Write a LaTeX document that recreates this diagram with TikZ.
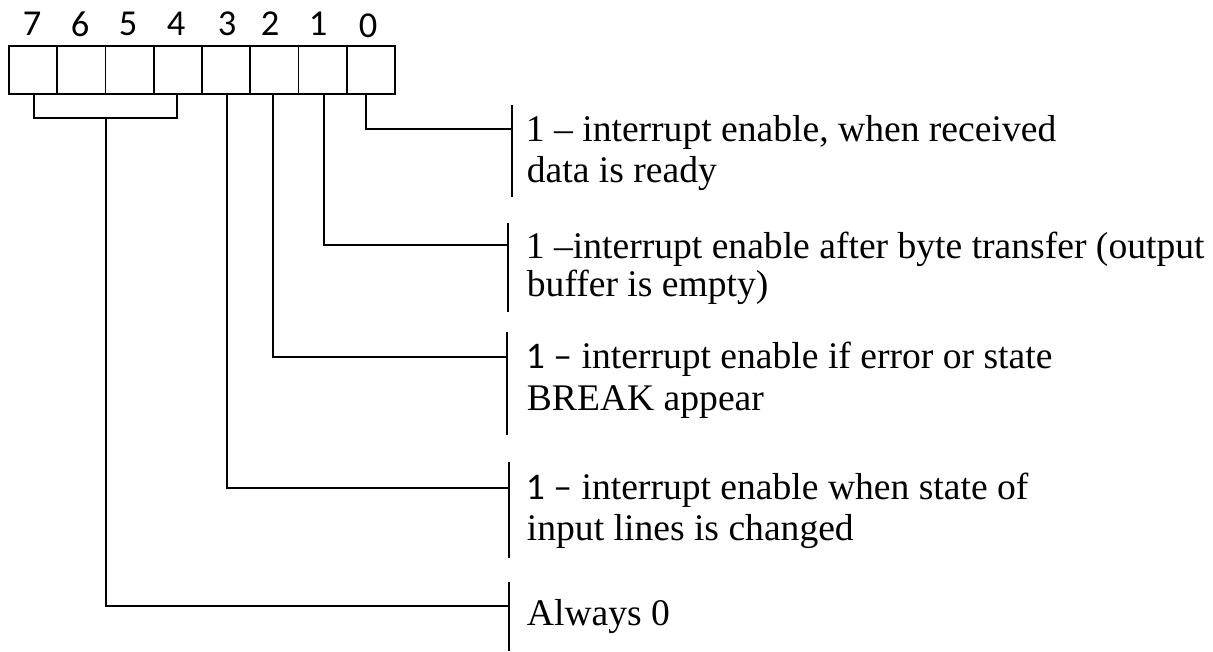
\documentclass[tikz,border=0pt]{standalone}
\usepackage{fontspec}
\setmainfont{Liberation Serif}
\newfontfamily\calfont{Carlito}
\begin{document}
\begin{tikzpicture}[x=1pt,y=-1pt,
    line width=1.8pt, line cap=rect,
    cell/.style={draw, line width=1.8pt, minimum width=48.25pt, minimum height=48pt, inner sep=0pt},
    bitnum/.style={font=\calfont\fontsize{36.5}{36.5}\selectfont, inner sep=0pt, anchor=base},
    lbl/.style={font=\fontsize{37.6}{41}\selectfont, inner sep=0pt, anchor=base west},
    bar/.style={line width=1.8pt, line cap=butt}]
\useasboundingbox (0,0) rectangle (1213,651);

% register cells, bit 7 on the left
\foreach \b in {7,...,0} {
  \node[cell] (b\b) at ({9+(7-\b)*48.25+24.125},70) {};
}

% bit numbers above the cells
\node[bitnum] (n7) at (32,35) {7};
\node[bitnum] (n6) at (80,36) {6};
\node[bitnum] (n5) at (128,35) {5};
\node[bitnum] (n4) at (176,35) {4};
\node[bitnum] (n3) at (227,35.5) {3};
\node[bitnum] (n2) at (270,35) {2};
\node[bitnum] (n1) at (318,35) {1};
\node[bitnum] (n0) at (368,37) {0};

% vertical bars in front of the descriptions
\coordinate (a0) at (512,105); \coordinate (z0) at (512,197); \coordinate (t0) at (512,129);
\coordinate (a1) at (508,223); \coordinate (z1) at (508,312); \coordinate (t1) at (508,245);
\coordinate (a2) at (507,332); \coordinate (z2) at (507,435); \coordinate (t2) at (507,357);
\coordinate (a3) at (509,462); \coordinate (z3) at (509,558); \coordinate (t3) at (509,488);
\coordinate (a4) at (509,582); \coordinate (z4) at (509,651); \coordinate (t4) at (509,606);
\foreach \i in {0,...,4} { \draw[bar] (a\i) -- (z\i); }

% leaders from the bits to the bars
\draw ([xshift=-4.5pt]b0.south) |- (t0);
\draw ([xshift=1pt]b1.south) |- (t1);
\draw ([xshift=-1pt]b2.south) |- (t2);
\draw ([xshift=1pt]b3.south) |- (t3);

% bits 7..4 grouped by a bracket
\coordinate (brk) at (106,118);
\draw ([xshift=1pt]b7.south) |- (brk) -| ([xshift=-1pt]b4.south);
\draw (brk) |- (t4);

% descriptions
\node[lbl] (d0a) at (525,141) {1 \textendash\ interrupt enable, when received};
\node[lbl] (d0b) at (526,182) {data is ready};

\node[lbl] (d1a) at (525,258) {1 \textendash interrupt enable after byte transfer (output};
\node[lbl] (d1b) at (526,296) {buffer is empty)};

\node[lbl] (d2a) at (525,368) {{\calfont 1 \textendash} interrupt enable if error or state};
\node[lbl] (d2b) at (526,410) {BREAK appear};

\node[lbl] (d3a) at (525,499) {{\calfont 1 \textendash} interrupt enable when state of};
\node[lbl] (d3b) at (526,540) {input lines is changed};

\node[lbl] (d4a) at (526,625) {Always 0};
\end{tikzpicture}
\end{document}
